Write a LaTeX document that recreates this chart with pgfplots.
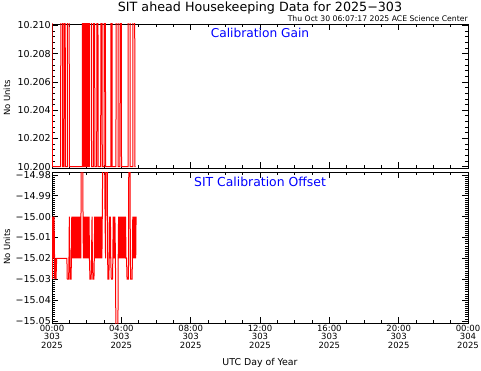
\documentclass[border=0pt]{standalone}
\usepackage{fontspec}
\setmainfont{DejaVu Sans}
\usepackage{pgfplots}
\pgfplotsset{compat=1.18}
\pgfplotsset{
  hk/.style={
    scale only axis, width=416pt, anchor=south west,
    xmin=0, xmax=24,
    xtick={0,4,8,12,16,20,24},
    minor xtick={1,2,3,5,6,7,9,10,11,13,14,15,17,18,19,21,22,23},
    tick align=inside, major tick length=6pt, minor tick length=3pt,
    tick style={black, line width=0.6pt},
    axis line style={line width=0.8pt},
    xtick pos=both, ytick pos=both,
    yticklabel style={font=\fontsize{9.5}{10}\selectfont, inner xsep=1pt},
    xticklabel style={font=\fontsize{8.5}{8.6}\selectfont, align=center, inner ysep=1.8pt},
  }
}
\begin{document}
\begin{tikzpicture}
\useasboundingbox (0pt,0pt) rectangle (481pt,370pt);
% ---------- top panel: Calibration Gain ----------
\begin{axis}[hk, at={(52pt,202pt)}, height=144pt,
  ymin=10.1999, ymax=10.2101,
  ytick={10.200,10.202,10.204,10.206,10.208,10.210},
  yticklabels={10.200,10.202,10.204,10.206,10.208,10.210},
  minor y tick num=4,
  xticklabels={}]
\addplot[red, line width=1pt, mark=none] coordinates {
(0.00,10.215)(0.02,10.200)(0.50,10.200)(0.51,10.215)(0.61,10.215)(0.62,10.200)
(0.69,10.200)(0.70,10.215)(0.76,10.215)(0.77,10.200)(0.88,10.200)(0.89,10.215)
(0.99,10.215)(1.00,10.200)(1.75,10.200)(1.76,10.215)(1.80,10.215)(1.81,10.200)
(1.84,10.200)(1.85,10.215)(1.90,10.215)(1.91,10.200)(1.94,10.200)(1.95,10.215)
(1.98,10.215)(1.99,10.200)(2.02,10.200)(2.03,10.215)(2.08,10.215)(2.09,10.200)
(2.15,10.200)(2.16,10.215)(2.27,10.215)(2.28,10.200)(2.38,10.200)(2.39,10.215)
(2.46,10.215)(2.47,10.200)(2.58,10.200)(2.59,10.215)(2.65,10.215)(2.66,10.200)
(2.81,10.200)(2.82,10.215)(2.89,10.215)(2.90,10.200)(3.00,10.200)(3.01,10.215)
(3.08,10.215)(3.09,10.200)(3.39,10.200)(3.40,10.215)(3.46,10.215)(3.47,10.200)
(3.69,10.200)(3.70,10.215)(3.81,10.215)(3.82,10.200)(3.92,10.200)(3.93,10.215)
(4.00,10.215)(4.01,10.200)(4.39,10.200)(4.40,10.215)(4.50,10.215)(4.51,10.200)
(4.66,10.200)(4.67,10.215)(4.77,10.215)(4.78,10.200)(4.83,10.200)
};
\end{axis}
% ---------- bottom panel: SIT Calibration Offset ----------
\begin{axis}[hk, at={(52pt,47pt)}, height=151pt,
  ymin=-15.051, ymax=-14.9786,
  ytick={-15.05,-15.04,-15.03,-15.02,-15.01,-15.00,-14.99,-14.98},
  yticklabels={−15.05,−15.04,−15.03,−15.02,−15.01,−15.00,−14.99,−14.98},
  minor y tick num=9,
  xticklabels={00:00\\303\\2025,04:00\\303\\2025,08:00\\303\\2025,12:00\\303\\2025,16:00\\303\\2025,20:00\\303\\2025,00:00\\304\\2025}]
\addplot[red, line width=1pt, mark=none] coordinates {
(0.00,-15.00)(0.03,-15.03)(0.06,-15.00)(0.09,-15.02)(0.12,-15.00)(0.16,-15.03)
(0.20,-15.02)(0.23,-15.03)(0.27,-15.02)(0.86,-15.02)(0.88,-15.03)(0.96,-15.03)
(0.98,-15.02)(1.00,-15.00)(1.03,-15.02)(1.05,-15.03)(1.10,-15.03)(1.12,-15.02)
(1.14,-15.00)(1.16,-15.02)(1.18,-15.00)(1.21,-15.02)(1.23,-15.00)(1.26,-15.02)
(1.28,-15.00)(1.31,-15.02)(1.33,-15.00)(1.36,-15.02)(1.38,-15.00)(1.41,-15.02)
(1.43,-15.00)(1.46,-15.02)(1.48,-15.00)(1.51,-15.02)(1.53,-15.00)(1.56,-15.02)
(1.58,-15.00)(1.61,-15.02)(1.63,-15.00)(1.66,-15.02)(1.69,-14.97)(1.77,-14.97)
(1.79,-15.00)(1.81,-15.02)(1.84,-15.00)(1.86,-15.02)(1.89,-15.00)(1.91,-15.02)
(1.94,-15.00)(1.96,-15.02)(1.99,-15.00)(2.01,-15.02)(2.04,-15.00)(2.06,-15.02)
(2.09,-15.00)(2.11,-15.02)(2.14,-15.00)(2.16,-15.02)(2.19,-15.03)(2.26,-15.03)
(2.28,-15.02)(2.31,-15.00)(2.33,-15.02)(2.36,-15.03)(2.42,-15.03)(2.44,-15.02)
(2.46,-15.00)(2.49,-15.02)(2.51,-15.00)(2.54,-15.02)(2.56,-15.00)(2.59,-15.02)
(2.61,-15.00)(2.64,-15.02)(2.66,-15.00)(2.69,-15.02)(2.71,-15.00)(2.74,-15.02)
(2.76,-15.00)(2.79,-15.02)(2.81,-15.00)(2.84,-15.02)(2.86,-15.00)(2.88,-15.02)
(2.90,-15.00)(2.93,-14.97)(3.04,-14.97)(3.06,-15.00)(3.09,-15.02)(3.12,-14.97)
(3.19,-14.97)(3.21,-15.02)(3.23,-15.03)(3.28,-15.03)(3.30,-15.02)(3.32,-15.00)
(3.35,-15.02)(3.37,-15.00)(3.39,-15.02)(3.42,-15.03)(3.49,-15.03)(3.51,-15.02)
(3.53,-15.00)(3.56,-15.02)(3.58,-15.00)(3.61,-15.02)(3.63,-15.00)(3.66,-15.02)
(3.69,-15.06)(3.80,-15.06)(3.82,-15.02)(3.84,-15.00)(3.87,-15.02)(3.89,-15.00)
(3.92,-15.02)(3.94,-15.00)(3.97,-15.02)(3.99,-15.00)(4.02,-15.02)(4.04,-15.00)
(4.07,-15.02)(4.09,-15.00)(4.12,-15.02)(4.14,-15.00)(4.17,-15.02)(4.19,-15.00)
(4.22,-15.02)(4.24,-15.00)(4.27,-15.02)(4.30,-15.02)(4.33,-15.03)(4.40,-15.03)
(4.42,-15.02)(4.43,-14.97)(4.50,-14.97)(4.52,-15.02)(4.54,-15.03)(4.62,-15.03)
(4.64,-15.02)(4.66,-15.00)(4.69,-15.02)(4.71,-15.00)(4.74,-15.02)(4.76,-15.00)
(4.79,-15.02)(4.81,-15.00)(4.83,-15.02)(4.85,-15.00)
};
\end{axis}
% ---------- texts ----------
\node[anchor=base, font=\fontsize{12.7}{13}\selectfont, inner sep=0pt] at (260pt,358.5pt) {SIT ahead Housekeeping Data for 2025−303};
\node[anchor=base east, font=\fontsize{7.7}{8}\selectfont, inner sep=0pt] at (468pt,348.5pt) {Thu Oct 30 06:07:17 2025 ACE Science Center};
\node[anchor=base, font=\fontsize{12.2}{12}\selectfont, text=blue, inner sep=0pt] at (260pt,332pt) {Calibration Gain};
\node[anchor=base, font=\fontsize{12.4}{12}\selectfont, text=blue, inner sep=0pt] at (260pt,183.5pt) {SIT Calibration Offset};
\node[rotate=90, font=\fontsize{8.5}{9}\selectfont, inner sep=0pt] at (7pt,272pt) {No Units};
\node[rotate=90, font=\fontsize{8.5}{9}\selectfont, inner sep=0pt] at (7pt,123pt) {No Units};
\node[anchor=base, font=\fontsize{9.4}{9}\selectfont, inner sep=0pt] at (260pt,4.5pt) {UTC Day of Year};
\end{tikzpicture}
\end{document}
